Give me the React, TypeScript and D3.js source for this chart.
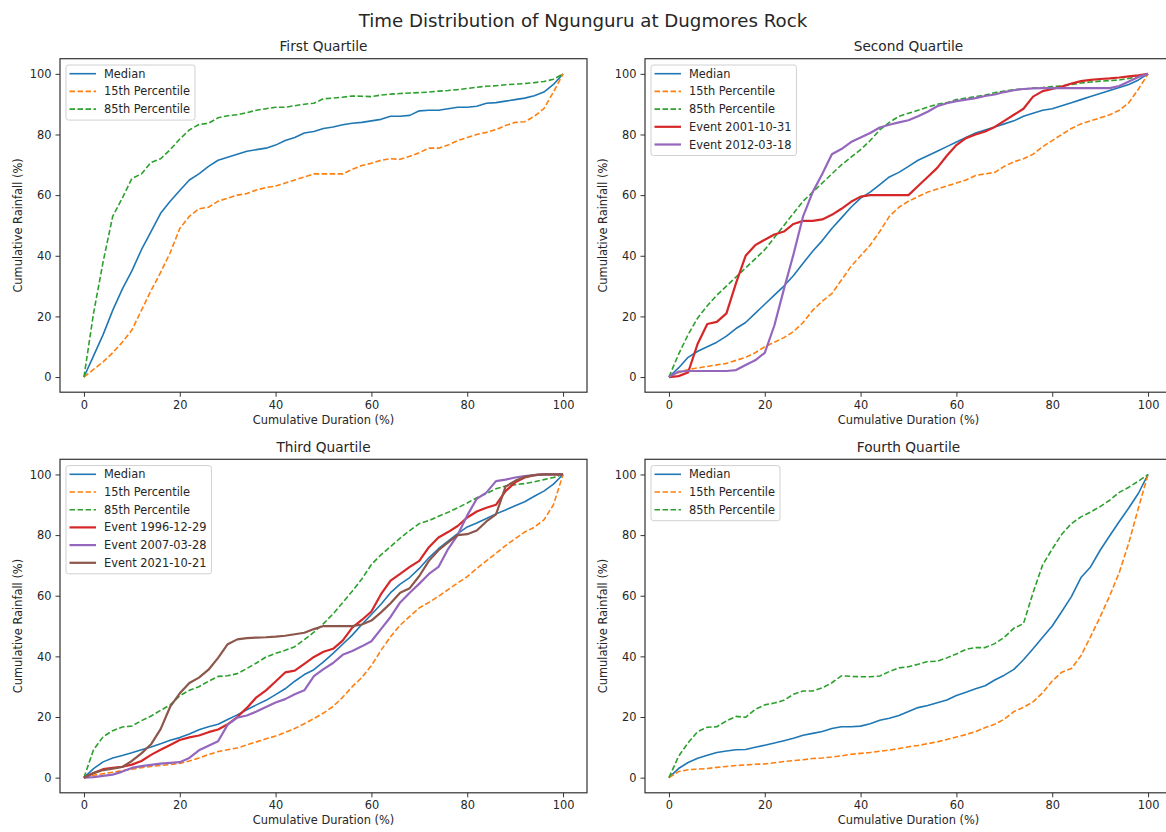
import React, { useEffect, useRef } from 'react';
import * as d3 from 'd3';

const width = 1166;
const height = 832;
const font = '"DejaVu Sans", sans-serif';

// x grid shared by every curve (cumulative duration, %)
const duration = [
  0, 2, 4, 6, 8, 10, 12, 14, 16, 18, 20, 22, 24, 26, 28, 30, 32, 34, 36, 38, 40,
  42, 44, 46, 48, 50, 52, 54, 56, 58, 60, 62, 64, 66, 68, 70, 72, 74, 76, 78, 80,
  82, 84, 86, 88, 90, 92, 94, 96, 98, 100,
];
const tickValues = [0, 20, 40, 60, 80, 100];

// First Quartile
const q1Median = [
  0, 7, 14, 22, 29, 35, 42, 48, 54, 58, 61.5, 65, 67, 69.5, 71.5, 72.5, 73.5, 74.5, 75, 75.5, 76.5,
  78, 79, 80.5, 81, 82, 82.5, 83.2, 83.7, 84, 84.5, 85, 86, 86, 86.3, 87.8, 88, 88, 88.5, 89, 89,
  89.3, 90.3, 90.5, 91, 91.5, 92, 92.8, 94, 96.5, 100,
];
const q1P15 = [
  0, 2.5, 5, 8, 11.5, 15.5, 22, 28.5, 34.5, 41, 49, 53, 55.5, 56, 58, 59, 60, 60.5, 61.7, 62.5, 63,
  64, 65, 66, 67, 67, 67, 67, 68.5, 69.8, 70.5, 71.5, 72, 71.8, 72.8, 74, 75.5, 75.5, 76.5, 78, 79,
  80, 80.7, 81.6, 83, 84, 84.2, 86, 88.5, 94, 100,
];
const q1P85 = [
  0, 21, 38, 53, 59, 65.5, 67, 70.8, 72, 75, 78.5, 81.5, 83.3, 83.7, 85.5, 86.2, 86.5, 87.2, 88, 88.5, 89,
  89, 89.5, 90, 90.3, 91.8, 92, 92.3, 92.7, 92.6, 92.5, 93, 93.3, 93.5, 93.7, 93.8, 94, 94.3, 94.5, 94.8, 95.2,
  95.6, 95.9, 96.1, 96.4, 96.6, 96.8, 97.1, 97.5, 98.2, 100,
];

// Second Quartile
const q2Median = [
  0, 3, 6.5, 8.5, 10, 11.5, 13.5, 16, 18, 21, 24, 27, 30, 33.5, 37.5, 41.5, 45, 49, 52.5, 56, 59,
  61, 63.5, 66, 67.5, 69.5, 71.5, 73, 74.5, 76, 77.5, 79, 80.5, 81.5, 82.5, 83.5, 84.5, 86, 87, 88, 88.5,
  89.5, 90.5, 91.5, 92.5, 93.5, 94.5, 95.5, 96.5, 98, 100,
];
const q2P15 = [
  0, 1.5, 2.5, 3, 3.5, 4, 4.5, 5.5, 6.5, 8, 10, 11.5, 13, 15, 18, 22, 25, 27.5, 32, 36.5, 40,
  43.5, 48, 53, 56, 58, 59.5, 61, 62, 63, 64, 65, 66.5, 67, 67.5, 69.5, 71, 72, 73.5, 76, 78,
  80, 82, 83.5, 84.5, 85.5, 86.5, 88, 90.5, 95, 100,
];
const q2P85 = [
  0, 7.5, 14, 19.5, 23.5, 27, 30, 33, 36, 39, 42, 46, 50, 54, 58, 61, 64, 67, 70, 72.5, 75,
  78, 81.5, 84, 86, 87, 88, 89, 90, 90.5, 91.5, 92, 92.5, 93, 93.8, 94.3, 94.8, 95, 95.3, 95.5, 95.8,
  96, 96.5, 97, 97.3, 97.6, 97.8, 98, 98.5, 99, 100,
];
const q2Event20011031 = [
  0, 0.3, 1.5, 11, 17.5, 18.2, 21, 31, 40, 43.5, 45.3, 47, 48, 50.5, 51.5, 51.5, 52, 53.5, 55.5, 57.8, 59.5,
  60, 60, 60, 60, 60, 63, 66, 69, 73, 76.5, 78.8, 80, 81, 82.5, 84.5, 86.5, 88.5, 92.5, 94.3, 95,
  95.8, 96.8, 97.6, 98, 98.3, 98.5, 98.8, 99.2, 99.5, 100,
];
const q2Event20120318 = [
  0, 1.8, 2, 2, 2, 2, 2, 2.3, 4, 5.5, 8, 17, 29, 40.5, 53, 61, 67, 73.5, 75.2, 77.5, 79,
  80.5, 82.3, 83.2, 84, 84.7, 86, 87.5, 89.3, 90.3, 91, 91.5, 92, 92.7, 93.2, 94, 94.6, 95, 95.2, 95.3, 95.3,
  95.3, 95.3, 95.3, 95.3, 95.3, 95.3, 96, 97.5, 99, 100,
];

// Third Quartile
const q3Median = [
  0, 3, 5.2, 6.5, 7.3, 8.2, 9.2, 10.1, 11.2, 12.3, 13.2, 14.4, 15.8, 16.8, 17.6, 19.2, 20.7, 22.4, 24, 25.5, 27.4,
  29.3, 31.8, 34, 35.6, 38.2, 41, 44, 47, 50.5, 53.8, 57.2, 61, 63.8, 66, 69, 72.5, 75.5, 78, 80.5, 82.7,
  84, 85.5, 87, 88.3, 89.7, 91, 92.8, 94.5, 96.8, 100,
];
const q3P15 = [
  0, 0.8, 1.3, 1.8, 2.3, 2.8, 3.3, 3.7, 4, 4.3, 4.7, 5.5, 6.5, 7.6, 8.6, 9.2, 9.8, 10.8, 11.8, 12.8, 13.7,
  14.9, 16.2, 17.8, 19.5, 21.3, 23.5, 26.5, 30, 33, 37, 42, 46.5, 50.3, 53.2, 56, 57.8, 59.8, 62, 64.2, 66.3,
  69, 71.5, 74, 76.5, 78.8, 81, 82.6, 85, 90, 100,
];
const q3P85 = [
  0, 9.2, 13.5, 15.5, 16.7, 17, 18.8, 20.3, 22.2, 24, 27, 28.8, 30, 31.8, 33.4, 33.6, 34.3, 36, 37.8, 39.8, 41,
  42, 43.2, 45.5, 48, 50.8, 54, 57.7, 61.5, 65.5, 70.3, 73.5, 76.2, 79, 81.5, 83.8, 84.8, 86.2, 87.5, 89, 90.6,
  92.3, 93.7, 95.3, 96.2, 96.6, 97, 97.6, 98.3, 99, 100,
];
const q3Event19961229 = [
  0, 1.5, 2.8, 3.2, 3.6, 4.3, 5.5, 7.5, 9.2, 10.8, 12.4, 13.3, 13.9, 15, 15.9, 17.6, 20, 23, 26.5, 28.8, 31.7,
  34.7, 35.3, 37.5, 39.8, 41.5, 42.5, 45.2, 49.5, 52, 54.8, 60.5, 65, 67.2, 69.5, 71.5, 76, 79.2, 81, 83, 85.8,
  87.8, 89, 90, 94.5, 97.4, 99, 99.8, 100, 100, 100,
];
const q3Event20070328 = [
  0, 0.2, 0.6, 1, 2, 3.2, 3.8, 4.2, 4.6, 4.9, 5.1, 6.5, 9, 10.5, 12, 17.5, 19.8, 20.5, 21.8, 23.3, 24.8,
  25.9, 27.5, 28.8, 33.5, 35.8, 37.8, 40.5, 41.8, 43.3, 45, 49, 53, 57.8, 61, 64, 67.2, 69.5, 75.4, 80, 86.5,
  92, 94, 97.8, 98.3, 99, 99.5, 99.8, 100, 100, 100,
];
const q3Event20211021 = [
  0, 1.5, 2.5, 3, 3.5, 5.5, 8, 11, 16, 23.4, 27.8, 31.2, 33, 35.6, 39.5, 44, 45.6, 46, 46.2, 46.3, 46.5,
  46.8, 47.3, 47.8, 49, 50, 50, 50, 50, 50.5, 51.8, 54.5, 57.5, 61, 62.5, 66.5, 71.5, 75, 77.6, 80, 80.3,
  81.5, 84.5, 86.8, 96, 97.9, 99.2, 99.8, 100, 100, 100,
];

// Fourth Quartile
const q4Median = [
  0, 3, 5, 6.4, 7.4, 8.3, 8.8, 9.2, 9.3, 10, 10.7, 11.4, 12.2, 13, 14, 14.6, 15.2, 16.2, 16.8, 16.8, 17,
  17.8, 18.9, 19.6, 20.5, 21.8, 23.1, 23.8, 24.7, 25.6, 27.1, 28.2, 29.3, 30.3, 32.2, 33.8, 35.7, 38.9, 42.5, 46.3, 50,
  54.8, 59.7, 66, 69.5, 75, 79.8, 84.5, 89, 93.8, 100,
];
const q4P15 = [
  0, 2, 2.6, 2.8, 3, 3.4, 3.7, 4, 4.2, 4.4, 4.5, 4.9, 5.3, 5.6, 5.9, 6.3, 6.5, 6.8, 7.2, 7.7, 8,
  8.3, 8.7, 9.1, 9.6, 10.2, 10.6, 11.2, 11.8, 12.6, 13.4, 14.2, 15.2, 16.5, 17.6, 19.3, 21.8, 23.2, 25, 28, 31.9,
  34.8, 36, 40.2, 46.5, 53, 60, 67.7, 77.5, 89, 100,
];
const q4P85 = [
  0, 7, 11.5, 15.2, 16.6, 16.8, 18.7, 20.2, 19.9, 22.5, 24, 24.6, 25.5, 27.5, 28.6, 28.6, 29.6, 31.3, 33.6, 33.4, 33.3,
  33.3, 33.5, 35, 36.2, 36.6, 37.4, 38.3, 38.4, 39.5, 40.8, 42.3, 42.9, 42.9, 44.2, 46.3, 49.3, 50.8, 61, 70.2, 75.4,
  80.3, 83.8, 86, 87.6, 89.4, 91.5, 94.1, 95.8, 97.8, 100,
];

const blue = '#1f77b4';
const orange = '#ff7f0e';
const green = '#2ca02c';
const red = '#d62728';
const purple = '#9467bd';
const brown = '#8c564b';

type Series = { label: string; values: number[]; color: string; dashed: boolean; event: boolean };

const base = (m: number[], p15: number[], p85: number[]): Series[] => [
  { label: 'Median', values: m, color: blue, dashed: false, event: false },
  { label: '15th Percentile', values: p15, color: orange, dashed: true, event: false },
  { label: '85th Percentile', values: p85, color: green, dashed: true, event: false },
];
const ev = (label: string, values: number[], color: string): Series => ({
  label, values, color, dashed: false, event: true,
});

const panels = [
  { title: 'First Quartile', series: base(q1Median, q1P15, q1P85) },
  {
    title: 'Second Quartile',
    series: [
      ...base(q2Median, q2P15, q2P85),
      ev('Event 2001-10-31', q2Event20011031, red),
      ev('Event 2012-03-18', q2Event20120318, purple),
    ],
  },
  {
    title: 'Third Quartile',
    series: [
      ...base(q3Median, q3P15, q3P85),
      ev('Event 1996-12-29', q3Event19961229, red),
      ev('Event 2007-03-28', q3Event20070328, purple),
      ev('Event 2021-10-21', q3Event20211021, brown),
    ],
  },
  { title: 'Fourth Quartile', series: base(q4Median, q4P15, q4P85) },
];

// layout of the 2x2 grid
const colLeft = [60, 645];
const rowTop = [58.7, 459.3];
const plotW = 527;
const plotH = 333.5;
const tickFont = 11.4;
const thin = 1.6;
const thick = 2.2;
const dash = '5.5,2.5';

let measureCtx: CanvasRenderingContext2D | null = null;
function textWidth(s: string, size: number) {
  if (!measureCtx) measureCtx = document.createElement('canvas').getContext('2d');
  if (!measureCtx) return s.length * size * 0.6;
  measureCtx.font = `${size}px "DejaVu Sans"`;
  return measureCtx.measureText(s).width;
}

function Panel({ panel, left, top }: { panel: typeof panels[number]; left: number; top: number }) {
  const xAxisRef = useRef<SVGGElement>(null);
  const yAxisRef = useRef<SVGGElement>(null);

  const x = d3.scaleLinear().domain([-5, 105]).range([left, left + plotW]);
  const y = d3.scaleLinear().domain([-5, 105]).range([top + plotH, top]);

  useEffect(() => {
    const style = (g: d3.Selection<SVGGElement, unknown, null, undefined>) => {
      g.attr('font-size', tickFont).attr('font-family', font);
      g.select('.domain').remove();
      g.selectAll('line').attr('stroke', '#333');
      g.selectAll('text').attr('fill', '#262626');
    };
    d3.select(xAxisRef.current!)
      .call(d3.axisBottom(x).tickValues(tickValues).tickSize(4.5).tickPadding(4))
      .call(style);
    d3.select(yAxisRef.current!)
      .call(d3.axisLeft(y).tickValues(tickValues).tickSize(4.5).tickPadding(4))
      .call(style);
  });

  const line = d3
    .line<number>()
    .x((_, i) => x(duration[i]))
    .y((d) => y(d));

  const legendX = left + 6;
  const legendY = top + 6.3;
  const rowH = 17.7;
  const maxText = d3.max(panel.series, (s) => textWidth(s.label, tickFont)) || 0;
  const legendW = 38 + maxText + 5;
  const legendH = panel.series.length * rowH + 2;

  return (
    <g>
      <text
        x={left + plotW / 2}
        y={top - 12.7}
        textAnchor="middle"
        dominantBaseline="central"
        fontSize={13.7}
        fontFamily={font}
        fill="#262626"
      >
        {panel.title}
      </text>
      <g ref={xAxisRef} transform={`translate(0, ${top + plotH})`} />
      <g ref={yAxisRef} transform={`translate(${left}, 0)`} />
      <text
        x={left + plotW / 2}
        y={top + plotH + 27.5}
        textAnchor="middle"
        dominantBaseline="central"
        fontSize={tickFont}
        fontFamily={font}
        fill="#262626"
      >
        Cumulative Duration (%)
      </text>
      <text
        transform={`translate(${left - 42.5}, ${top + plotH / 2}) rotate(-90)`}
        textAnchor="middle"
        dominantBaseline="central"
        fontSize={tickFont}
        fontFamily={font}
        fill="#262626"
      >
        Cumulative Rainfall (%)
      </text>
      {panel.series.map((s) => (
        <path
          key={s.label}
          d={line(s.values) || ''}
          fill="none"
          stroke={s.color}
          strokeWidth={s.event ? thick : thin}
          strokeDasharray={s.dashed ? dash : undefined}
          strokeLinejoin="round"
        />
      ))}
      <rect x={left} y={top} width={plotW} height={plotH} fill="none" stroke="#333" strokeWidth={1.2} />
      <g>
        <rect
          x={legendX}
          y={legendY}
          width={legendW}
          height={legendH}
          rx={2.5}
          fill="white"
          fillOpacity={0.8}
          stroke="#d0d0d0"
          strokeWidth={1}
        />
        {panel.series.map((s, i) => {
          const cy = legendY + 8.7 + i * rowH;
          return (
            <g key={s.label}>
              <line
                x1={legendX + 3.5}
                x2={legendX + 30}
                y1={cy}
                y2={cy}
                stroke={s.color}
                strokeWidth={s.event ? thick : thin}
                strokeDasharray={s.dashed ? dash : undefined}
              />
              <text
                x={legendX + 38}
                y={cy}
                dominantBaseline="central"
                fontSize={tickFont}
                fontFamily={font}
                fill="#262626"
              >
                {s.label}
              </text>
            </g>
          );
        })}
      </g>
    </g>
  );
}

export default function App() {
  return (
    <svg
      width={width}
      height={height}
      style={{ position: 'absolute', left: 0, top: 0, background: 'white' }}
    >
      <rect x={0} y={0} width={width} height={height} fill="white" />
      <text
        x={583}
        y={20}
        textAnchor="middle"
        dominantBaseline="central"
        fontSize={18.2}
        fontFamily={font}
        fill="#262626"
      >
        Time Distribution of Ngunguru at Dugmores Rock
      </text>
      {panels.map((p, i) => (
        <Panel key={p.title} panel={p} left={colLeft[i % 2]} top={rowTop[Math.floor(i / 2)]} />
      ))}
    </svg>
  );
}
